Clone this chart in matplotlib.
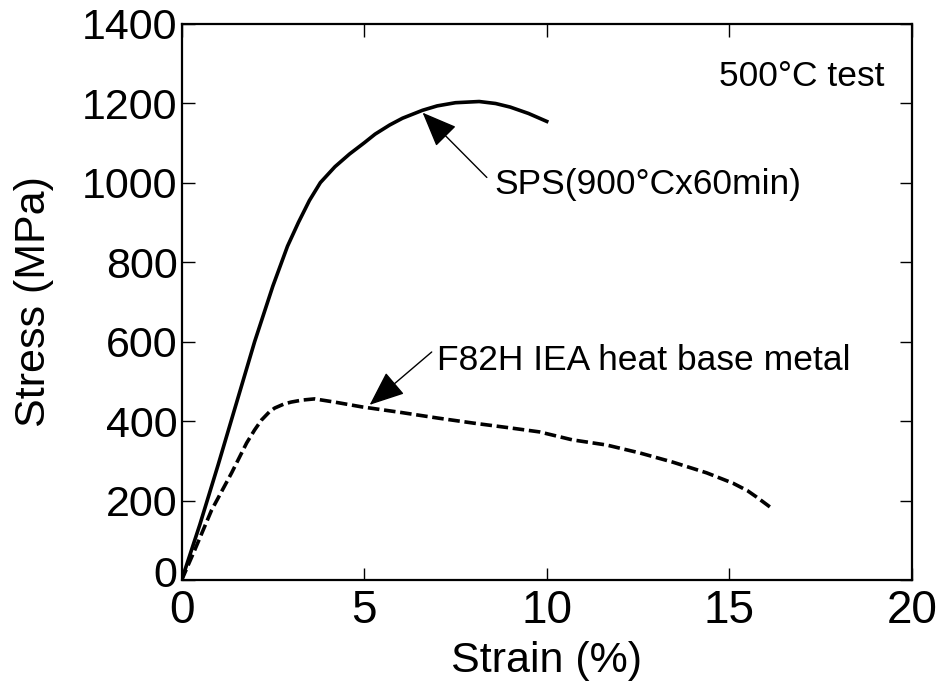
import matplotlib
matplotlib.use("Agg")
import matplotlib.pyplot as plt
import matplotlib.transforms as mtransforms

plt.rcParams.update({
    "font.family": ["Liberation Sans", "DejaVu Sans"],
    "xtick.direction": "in",
    "ytick.direction": "in",
    "xtick.top": True,
    "ytick.right": True,
})

# SPS (900°C x 60 min), solid curve
sps_strain = [0, 0.5, 1.0, 1.5, 2.0, 2.5, 2.9, 3.2, 3.5, 3.8, 4.2, 4.6, 5.0,
              5.3, 5.7, 6.05, 6.6, 7.0, 7.5, 8.15, 8.6, 9.0, 9.5, 10.0]
sps_stress = [0, 140, 290, 445, 600, 740, 840, 900, 955, 1000, 1040, 1072, 1100,
              1122, 1145, 1162, 1182, 1193, 1201, 1204, 1199, 1190, 1174, 1154]

# F82H IEA heat base metal, dashed curve
f82_strain = [0, 0.36, 0.82, 1.37, 1.78, 2.0, 2.19, 2.4, 2.55, 2.8, 3.0, 3.3, 3.64,
              4.19, 4.93, 6, 7, 8, 9, 9.8, 10.7, 11.64, 12.55, 13.45, 14.38, 15.1,
              15.5, 15.75, 16.0, 16.16]
f82_stress = [0, 76, 176, 270, 345, 378, 403, 423, 433, 443, 448, 453, 456,
              448, 436, 422, 408, 395, 383, 373, 353, 340, 320, 297, 270, 244,
              225, 209, 192, 181]

xticks = [0, 5, 10, 15, 20]
yticks = [0, 200, 400, 600, 800, 1000, 1200, 1400]

fig = plt.figure(figsize=(9.41, 6.94), dpi=100)
ax = fig.add_axes([0.193, 0.164, 0.776, 0.802])

ax.plot(sps_strain, sps_stress, color="black", lw=2.6)
ax.plot(f82_strain, f82_stress, color="black", lw=2.6, ls=(0, (3.2, 1.3)))

ax.set_xlim(0, 20)
ax.set_ylim(0, 1400)
ax.set_xticks(xticks)
ax.set_yticks(yticks)
ax.tick_params(axis="both", length=9, width=1.0)
ax.tick_params(axis="x", labelsize=33, pad=6)
ax.tick_params(axis="y", labelsize=31, pad=3)
for s in ax.spines.values():
    s.set_linewidth(1.6)

# lift the y "0" a little so it clears the x "0", as in the original
zero = ax.get_yticklabels()[0]
zero.set_transform(zero.get_transform() +
                   mtransforms.ScaledTranslation(0, 6 / 72, fig.dpi_scale_trans))

ax.set_xlabel("Strain (%)", fontsize=31, labelpad=6)
ax.set_ylabel("Stress (MPa)", fontsize=31, labelpad=20)

ax.text(0.962, 0.905, "500°C test", transform=ax.transAxes, fontsize=25.5,
        ha="right", va="center")

arrow = dict(arrowstyle="-|>,head_length=2.2,head_width=0.9", color="black",
             lw=1.0, shrinkA=0, shrinkB=0)
ax.text(8.58, 995, "SPS(900°Cx60min)", fontsize=25.5, ha="left", va="center")
ax.annotate("", xy=(6.6, 1176), xytext=(8.36, 1013), arrowprops=arrow)
ax.text(7.0, 553, "F82H IEA heat base metal", fontsize=25.5, ha="left", va="center")
ax.annotate("", xy=(5.15, 441), xytext=(6.85, 574), arrowprops=arrow)

fig.savefig("out.png", dpi=100)
